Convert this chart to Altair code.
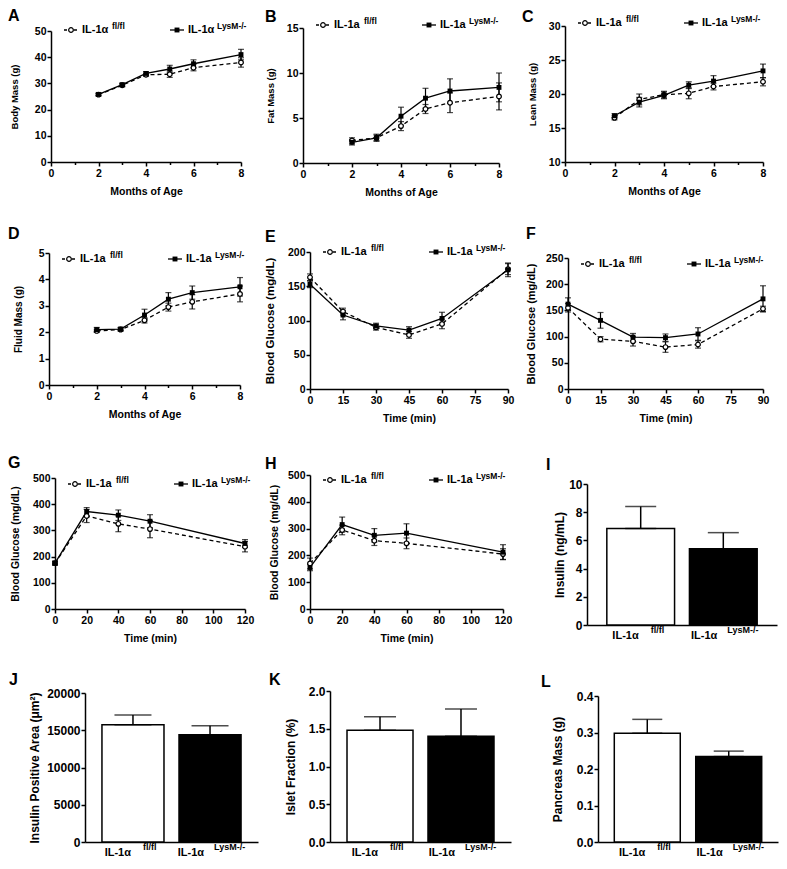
import altair as alt
import pandas as pd

FONT = "Liberation Sans"
CW, CH = 257, 213  # cell size of the 3 x 4 figure grid

# ---------------- data ----------------
months = [2, 3, 4, 5, 6, 8]
itt_min = [0, 15, 30, 45, 60, 90]
gtt_min = [0, 20, 40, 60, 120]

body_ff = [25.7, 29.3, 33.3, 33.5, 36.0, 38.0]
body_ff_err = [0.5, 0.6, 0.6, 1.2, 1.2, 1.8]
body_ko = [25.8, 29.5, 33.8, 35.5, 37.5, 41.0]
body_ko_err = [0.5, 0.6, 0.7, 1.4, 1.5, 2.0]

fat_ff = [2.5, 2.8, 4.1, 6.0, 6.7, 7.4]
fat_ff_err = [0.3, 0.3, 0.5, 0.5, 1.1, 1.5]
fat_ko = [2.3, 2.8, 5.2, 7.2, 8.0, 8.4]
fat_ko_err = [0.3, 0.4, 1.0, 1.1, 1.35, 1.6]

lean_ff = [16.5, 19.2, 19.9, 20.1, 21.1, 21.8]
lean_ff_err = [0.3, 0.8, 0.5, 0.8, 0.5, 0.6]
lean_ko = [16.8, 18.8, 19.8, 21.3, 21.9, 23.4]
lean_ko_err = [0.3, 0.7, 0.5, 0.5, 0.8, 1.0]

fluid_ff = [2.05, 2.1, 2.45, 2.95, 3.15, 3.45]
fluid_ff_err = [0.06, 0.06, 0.1, 0.15, 0.27, 0.3]
fluid_ko = [2.1, 2.12, 2.65, 3.25, 3.5, 3.72]
fluid_ko_err = [0.08, 0.06, 0.22, 0.25, 0.25, 0.35]

itt1_ff = [163, 113, 90, 79, 95, 175]
itt1_ff_err = [5, 5, 4, 5, 7, 8]
itt1_ko = [153, 108, 92, 86, 103, 174]
itt1_ko_err = [5, 7, 4, 5, 9, 10]

itt2_ff = [155, 95, 91, 80, 85, 153]
itt2_ff_err = [8, 5, 9, 10, 7, 5]
itt2_ko = [162, 131, 99, 98, 105, 172]
itt2_ko_err = [12, 15, 7, 7, 12, 25]

gtt1_ff = [175, 355, 325, 305, 238]
gtt1_ff_err = [6, 25, 30, 33, 20]
gtt1_ko = [175, 372, 358, 335, 250]
gtt1_ko_err = [8, 15, 20, 25, 15]

gtt2_ff = [170, 295, 255, 245, 205]
gtt2_ff_err = [20, 18, 18, 20, 20]
gtt2_ko = [155, 315, 275, 283, 212]
gtt2_ko_err = [12, 28, 25, 35, 28]

groups = ["IL-1α fl/fl", "IL-1α LysM-/-"]
group_main = ["IL-1α", "IL-1α"]
group_sup = ["fl/fl", "LysM-/-"]

insulin = [6.85, 5.4]
insulin_err = [1.55, 1.15]
ins_area = [15750, 14400]
ins_area_err = [1300, 1200]
islet = [1.48, 1.40]
islet_err = [0.18, 0.36]
pancreas = [0.298, 0.234]
pancreas_err = [0.038, 0.015]

one = pd.DataFrame({"k": [0]})


def txt(text, x, y, size, align="left", baseline="middle"):
    return alt.Chart(one).mark_text(
        text=text, font=FONT, fontSize=size, fontWeight="bold", color="black",
        align=align, baseline=baseline
    ).encode(x=alt.value(x), y=alt.value(y))


def line_panel(letter, xs, ff, ffe, ko, koe, xdom, xvals, minor, ydom, yvals,
               ytitle, xtitle, geo, let_xy, ytp, ly, alpha, yts=10, xts=10.5):
    px, py, W, H = geo
    dff = pd.DataFrame({"x": xs, "y": ff, "lo": [a - b for a, b in zip(ff, ffe)],
                        "hi": [a + b for a, b in zip(ff, ffe)]})
    dko = pd.DataFrame({"x": xs, "y": ko, "lo": [a - b for a, b in zip(ko, koe)],
                        "hi": [a + b for a, b in zip(ko, koe)]})
    common = dict(values=xvals, title=xtitle, labelFlush=False, grid=False,
                  labelPadding=2, titlePadding=8, titleFontSize=xts,
                  offset=-(CH - py - H))
    if minor:
        xaxis = alt.Axis(labelExpr="datum.value % 2 == 0 ? datum.label : ''",
                         tickSize={"condition": {"test": "datum.value % 2 == 1", "value": 2.5}, "value": 4},
                         **common)
    else:
        xaxis = alt.Axis(tickSize=4, **common)
    xsc = alt.Scale(domain=xdom, nice=False, zero=False, range=[px, px + W])
    ysc = alt.Scale(domain=ydom, nice=False, zero=False, range=[py + H, py])
    yaxis = alt.Axis(values=yvals, title=ytitle, grid=False, tickSize=4, offset=-px,
                     labelPadding=1, titlePadding=ytp, format="d", titleFontSize=yts)
    X = alt.X("x:Q", scale=xsc, axis=xaxis)

    def Y(f):
        return alt.Y(f + ":Q", scale=ysc, axis=yaxis)

    layers = []
    for d in (dff, dko):
        layers.append(alt.Chart(d).mark_errorbar(ticks=True, size=6, thickness=1.2, color="black")
                      .encode(x=X, y=Y("lo"), y2="hi:Q"))
    layers.append(alt.Chart(dff).mark_line(color="black", strokeWidth=1.3, strokeDash=[4, 3])
                  .encode(x=X, y=Y("y")))
    layers.append(alt.Chart(dko).mark_line(color="black", strokeWidth=1.3)
                  .encode(x=X, y=Y("y")))
    layers.append(alt.Chart(dff).mark_point(shape="circle", filled=True, fill="white", stroke="black",
                                            strokeWidth=1.2, size=22, opacity=1)
                  .encode(x=X, y=Y("y")))
    layers.append(alt.Chart(dko).mark_point(shape="square", filled=True, color="black", size=24, opacity=1)
                  .encode(x=X, y=Y("y")))
    # legend
    lab = "IL-1α" if alpha else "IL-1a"
    yl = py + ly
    layers.append(alt.Chart(one).mark_rule(color="black", strokeWidth=1.3, strokeDash=[3, 2])
                  .encode(x=alt.value(px + 13), x2=alt.value(px + 27), y=alt.value(yl)))
    layers.append(alt.Chart(one).mark_point(shape="circle", filled=True, fill="white", stroke="black",
                                            strokeWidth=1.2, size=22, opacity=1)
                  .encode(x=alt.value(px + 20), y=alt.value(yl)))
    layers.append(txt(lab, px + 31, yl, 11))
    layers.append(txt("fl/fl", px + 61, yl - 4, 8.5))
    layers.append(alt.Chart(one).mark_rule(color="black", strokeWidth=1.3)
                  .encode(x=alt.value(px + 119), x2=alt.value(px + 133), y=alt.value(yl)))
    layers.append(alt.Chart(one).mark_point(shape="square", filled=True, color="black", size=24, opacity=1)
                  .encode(x=alt.value(px + 126), y=alt.value(yl)))
    layers.append(txt(lab, px + 137, yl, 11))
    layers.append(txt("LysM-/-", px + 166, yl - 4, 8.5))
    layers.append(txt(letter, px + let_xy[0], py + let_xy[1], 16, baseline="top"))
    return alt.layer(*layers).properties(width=CW, height=CH)


def bar_panel(letter, vals, errs, ydom, yvals, yfmt, ytitle, geo, pin, pout,
              let_xy, ytp, cap, lab_dx):
    px, py, W, H = geo
    df = pd.DataFrame({"grp": groups, "v": vals,
                       "top": [a + b for a, b in zip(vals, errs)],
                       "main": group_main, "sup": group_sup})
    X = alt.X("grp:N", sort=groups,
              scale=alt.Scale(domain=groups, paddingInner=pin, paddingOuter=pout, range=[px, px + W]),
              axis=alt.Axis(labels=False, ticks=False, title=None, offset=-(CH - py - H)))
    ysc = alt.Scale(domain=ydom, nice=False, zero=True, range=[py + H, py])
    yaxis = alt.Axis(values=yvals, title=ytitle, grid=False, tickSize=4, format=yfmt, offset=-px,
                     labelPadding=1, titlePadding=ytp, labelFontSize=12, titleFontSize=12)

    def Y(f):
        return alt.Y(f + ":Q", scale=ysc, axis=yaxis)

    layers = [
        alt.Chart(df).mark_bar(stroke="black", strokeWidth=1.5).encode(
            x=X, y=Y("v"),
            fill=alt.Fill("grp:N", scale=alt.Scale(domain=groups, range=["white", "black"]), legend=None)),
        alt.Chart(df).mark_errorbar(ticks=True, size=cap, thickness=1.5, color="black").encode(
            x=X, y=Y("v"), y2="top:Q"),
    ]
    for i in range(len(groups)):
        sub = df.iloc[[i]]
        layers.append(alt.Chart(sub).mark_text(font=FONT, fontSize=11, fontWeight="bold", color="black",
                                               align="right", baseline="top", dx=lab_dx[i][0])
                      .encode(x=X, y=alt.value(py + H + 5), text="main:N"))
        layers.append(alt.Chart(sub).mark_text(font=FONT, fontSize=9, fontWeight="bold", color="black",
                                               align="left", baseline="top", dx=lab_dx[i][1])
                      .encode(x=X, y=alt.value(py + H + 1), text="sup:N"))
    layers.append(txt(letter, px + let_xy[0], py + let_xy[1], 16, baseline="top"))
    return alt.layer(*layers).properties(width=CW, height=CH)


m_ticks = list(range(0, 9))
A = line_panel("A", months, body_ff, body_ff_err, body_ko, body_ko_err, [0, 8], m_ticks, True,
               [0, 50], [0, 10, 20, 30, 40, 50], "Body Mass (g)", "Months of Age",
               (43, 23, 190, 131), (-43, -23), 15, -1, True, yts=9.5)
B = line_panel("B", months, fat_ff, fat_ff_err, fat_ko, fat_ko_err, [0, 8], m_ticks, True,
               [0, 15], [0, 5, 10, 15], "Fat Mass (g)", "Months of Age",
               (38, 20, 196, 135), (-38, -19), 11, -3, False, yts=9.5)
C = line_panel("C", months, lean_ff, lean_ff_err, lean_ko, lean_ko_err, [0, 8], m_ticks, True,
               [10, 30], [10, 15, 20, 25, 30], "Lean Mass (g)", "Months of Age",
               (43, 18, 198, 136), (-43, -17), 11, -3, False, yts=9.5)
D = line_panel("D", months, fluid_ff, fluid_ff_err, fluid_ko, fluid_ko_err, [0, 8], m_ticks, True,
               [0, 5], [0, 1, 2, 3, 4, 5], "Fluid Mass (g)", "Months of Age",
               (41, 32, 191, 132), (-41, -27), 15, 6, False, yts=10)
E = line_panel("E", itt_min, itt1_ff, itt1_ff_err, itt1_ko, itt1_ko_err, [0, 90],
               [0, 15, 30, 45, 60, 75, 90], False,
               [0, 200], [0, 50, 100, 150, 200], "Blood Glucose (mg/dL)", "Time (min)",
               (45, 31, 198, 137), (-45, -23), 12, 0, False, yts=11.5)
F = line_panel("F", itt_min, itt2_ff, itt2_ff_err, itt2_ko, itt2_ko_err, [0, 90],
               [0, 15, 30, 45, 60, 75, 90], False,
               [0, 250], [0, 50, 100, 150, 200, 250], "Blood Glucose (mg/dL)", "Time (min)",
               (46, 37, 195, 131), (-42, -32), 9, 6, False, yts=11)
G = line_panel("G", gtt_min, gtt1_ff, gtt1_ff_err, gtt1_ko, gtt1_ko_err, [0, 120],
               [0, 20, 40, 60, 80, 100, 120], False,
               [0, 500], [0, 100, 200, 300, 400, 500], "Blood Glucose (mg/dL)", "Time (min)",
               (47, 44, 190, 131), (-47, -23), 12, 6, False, yts=10.5)
H = line_panel("H", gtt_min, gtt2_ff, gtt2_ff_err, gtt2_ko, gtt2_ko_err, [0, 120],
               [0, 20, 40, 60, 80, 100, 120], False,
               [0, 500], [0, 100, 200, 300, 400, 500], "Blood Glucose (mg/dL)", "Time (min)",
               (45, 41, 193, 134), (-45, -19), 8, 5, False, yts=10.5)

lab_dx = [(-2, 10), (-6, 4)]
I = bar_panel("I", insulin, insulin_err, [0, 10], [0, 2, 4, 6, 8, 10], "d", "Insulin (ng/mL)",
              (65, 50, 190, 141), 0.18, 0.24, (-41, -27), 2, 31, lab_dx)
J = bar_panel("J", ins_area, ins_area_err, [0, 20000], [0, 5000, 10000, 15000, 20000], "d",
              "Insulin Positive Area (μm²)", (77, 46, 173, 149), 0.195, 0.22, (-76, -21), 5, 37, lab_dx)
K = bar_panel("K", islet, islet_err, [0, 2], [0, 0.5, 1.0, 1.5, 2.0], ".1f", "Islet Fraction (%)",
              (65, 44, 181, 151), 0.185, 0.21, (-61, -19), 11, 32, lab_dx)
L = bar_panel("L", pancreas, pancreas_err, [0, 0.4], [0, 0.1, 0.2, 0.3, 0.4], ".1f", "Pancreas Mass (g)",
              (76, 49, 180, 146), 0.19, 0.2, (-57, -22), 12, 30, lab_dx)

chart = alt.concat(A, B, C, D, E, F, G, H, I, J, K, L, columns=3, spacing=0,
                   bounds="flush").properties(
    padding=0, background="white"
).configure_view(stroke=None).configure_axis(
    domainColor="black", domainWidth=1.5, tickColor="black", tickWidth=1.5,
    labelFont=FONT, labelFontWeight="bold", labelFontSize=10.5, labelColor="black",
    titleFont=FONT, titleFontWeight="bold", titleFontSize=10.5, titleColor="black",
    labelOverlap=False,
)

chart.save("out.html", embed_options={"renderer": "svg", "actions": False})
